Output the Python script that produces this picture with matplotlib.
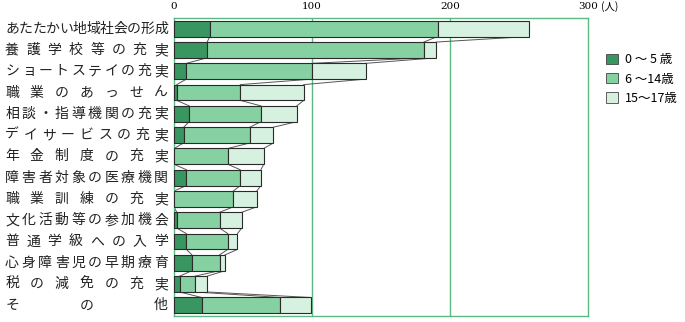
import numpy as np
import matplotlib.pyplot as plt
from matplotlib.patches import Patch
import matplotlib.transforms as mtransforms

plt.rcParams['font.family'] = ['Noto Sans CJK JP', 'DejaVu Sans']

# 項目
categories = ["あたたかい地域社会の形成", "養護学校等の充実", "ショートステイの充実",
              "職業のあっせん", "相談・指導機関の充実", "デイサービスの充実",
              "年金制度の充実", "障害者対象の医療機関", "職業訓練の充実",
              "文化活動等の参加機会", "普通学級への入学", "心身障害児の早期療育",
              "税の減免の充実", "その他"]
age_0_5 = [26, 24, 9, 2, 11, 7, 0, 9, 0, 2, 9, 13, 4, 20]
age_6_14 = [165, 157, 91, 46, 52, 48, 39, 39, 43, 31, 30, 20, 11, 57]
age_15_17 = [66, 9, 39, 46, 26, 17, 26, 15, 17, 16, 7, 4, 9, 22]
series_labels = ["0 ～ 5 歳", "6 ～14歳", "15～17歳"]
colors = ["#3a9661", "#86d1a2", "#d6f1df"]

fig = plt.figure(figsize=(6.85, 3.22), dpi=100)
ax = fig.add_axes([174/685, 1-316/322, 414/685, 298/322])

data = np.array([age_0_5, age_6_14, age_15_17], dtype=float)
y = np.arange(len(categories))
h = 0.74
left = np.zeros(len(categories))
for vals, c in zip(data, colors):
    ax.barh(y, vals, left=left, height=h, color=c, edgecolor="#2a2a2a", linewidth=0.8, zorder=3)
    left += vals

# 区切り線(隣接する棒の境界をつなぐ)
cum = np.cumsum(data, axis=0)
for k in range(cum.shape[0]):
    for i in range(len(categories) - 1):
        ax.plot([cum[k, i], cum[k, i+1]], [i + h/2, i + 1 - h/2],
                color="#555555", lw=0.7, zorder=2)

ax.set_xlim(0, 300)
ax.set_ylim(len(categories) - 0.5, -0.5)
ax.set_yticks([])
ax.xaxis.tick_top()
ax.set_xticks([0, 100, 200, 300])
ax.set_xticklabels(["0", "100", "200", "300"], family="DejaVu Serif", fontsize=7.5)
ax.tick_params(axis="x", length=0, pad=5)
ax.annotate("(人)", xy=(300, -0.5), xycoords="data", xytext=(9, 4.5),
            textcoords="offset points", fontsize=7.5, va="bottom", ha="left")
for s in ax.spines.values():
    s.set_color("#5db883")
    s.set_linewidth(1.0)
for xv in [100, 200]:
    ax.axvline(xv, color="#5db883", lw=1.0, zorder=1)

# 均等割付の項目名
trans = mtransforms.blended_transform_factory(fig.transFigure, ax.transData)
x0, x1 = 12/685, 161/685
for i, lab in enumerate(categories):
    n = len(lab)
    for j, ch in enumerate(lab):
        xx = x0 + (x1 - x0) * j / (n - 1)
        fig.text(xx, i, ch, transform=trans, ha="center", va="center",
                 fontsize=10, color="#222222")

handles = [Patch(facecolor=c, edgecolor="#444444", linewidth=0.6) for c in colors]
fig.legend(handles, series_labels, loc="upper left", bbox_to_anchor=(595/685, 1-42/322),
           frameon=False, fontsize=9, handlelength=0.9, handleheight=0.9,
           handletextpad=0.6, labelspacing=0.5)

fig.savefig("out.png", dpi=100)
